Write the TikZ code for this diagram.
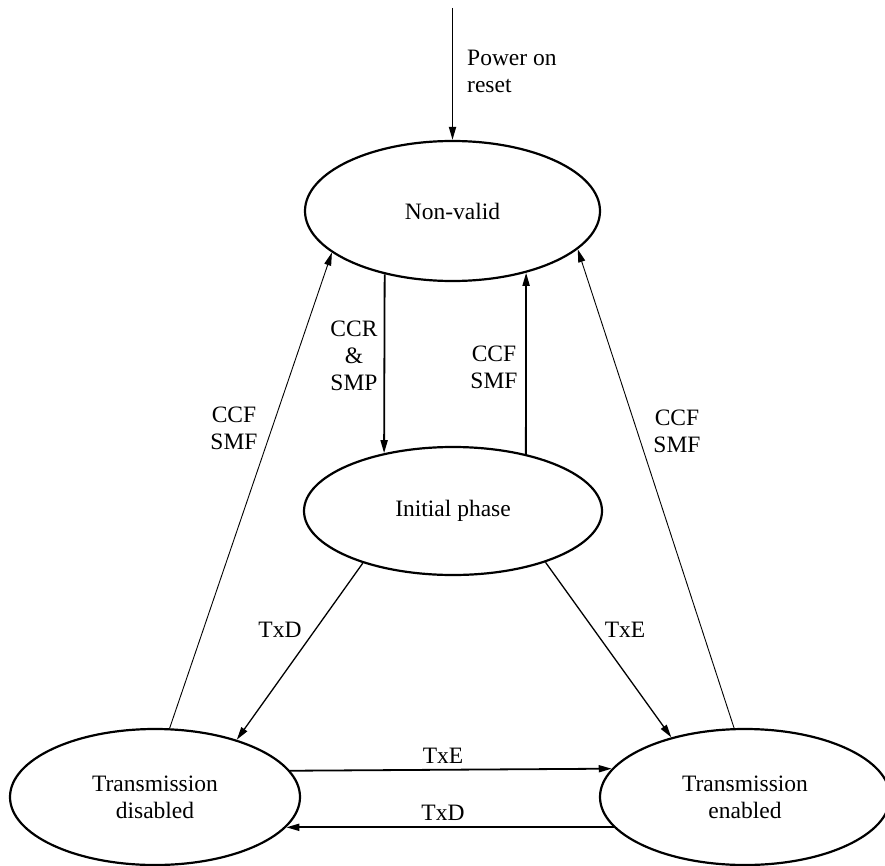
\documentclass[tikz,border=0pt]{standalone}
\usepackage{fontspec}
\setmainfont{Liberation Serif}
\usetikzlibrary{shapes.geometric,arrows.meta}
\begin{document}
\begin{tikzpicture}[x=1pt,y=-1pt,
  every node/.style={font=\fontsize{23.5}{27}\selectfont},
  state/.style={ellipse,draw,line width=2.2pt,inner sep=0pt,align=center},
  lbl/.style={align=center,inner sep=0pt},
  tip/.style={-{Triangle[length=13pt,width=7pt]}},
  heavy/.style={tip,line width=1.8pt},
  medium/.style={tip,line width=1.3pt},
  light/.style={tip,line width=0.9pt}]
\useasboundingbox (0,0) rectangle (885,866);
\node[state,minimum width=295pt,minimum height=140pt] (nv) at (452.5,211) {Non-valid};
\node[state,minimum width=298pt,minimum height=128pt] (ip) at (453,511) {Initial phase};
\node[state,minimum width=290pt,minimum height=136pt] (td) at (155,797) {Transmission\\disabled};
\node[state,minimum width=290pt,minimum height=136pt] (te) at (745,797) {Transmission\\enabled};
\coordinate (pwr) at (452.5,8);
\draw[heavy] (pwr) -- (nv.north);
\node[lbl,align=left,anchor=west] (pwrlbl) at (467,71) {Power on\\reset};
% Non-valid <-> Initial phase
\draw[heavy] (nv.-137.3) -- (ip.140.1);
\node[lbl] (ccr) at (354,356) {CCR\\\&\\SMP};
\draw[heavy] (ip.38.4) -- (nv.-40.6);
\node[lbl] (ccfm) at (494,367) {CCF\\SMF};
% long returns
\draw[light] (td.78.3) -- (nv.-161.5);
\node[lbl] (ccfl) at (234,428) {CCF\\SMF};
\draw[light] (te.99.2) -- (nv.-17.7);
\node[lbl] (ccfr) at (677,431) {CCF\\SMF};
% diagonals
\draw[medium] (ip.-150) -- (td.35.8);
\node[lbl] (txdd) at (280,630) {TxD};
\draw[medium] (ip.-29) -- (te.141.1);
\node[lbl] (txed) at (625,630) {TxE};
% horizontals
\draw[heavy] (td.11.5) -- (te.168.5);
\node[lbl] (txeh) at (443,756) {TxE};
\draw[heavy] (te.-167) -- (td.-13);
\node[lbl] (txdh) at (443,813) {TxD};
\end{tikzpicture}
\end{document}
